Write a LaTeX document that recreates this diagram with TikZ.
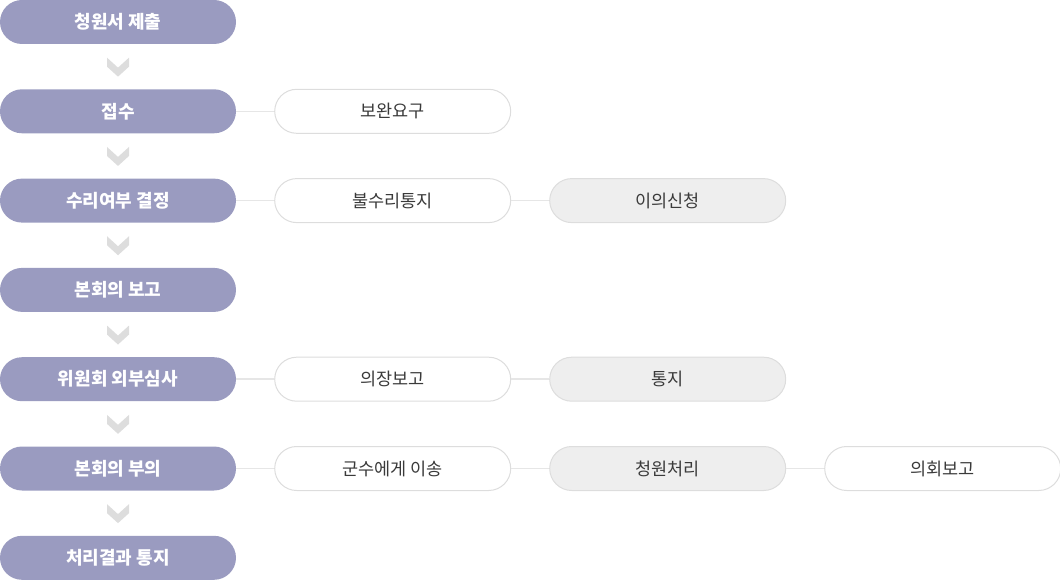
\documentclass[tikz,border=0pt]{standalone}
\usepackage{fontspec}
\newfontfamily\krfont{Noto Sans CJK KR}
\usetikzlibrary{positioning,calc}
\definecolor{stepfill}{HTML}{9A9BC0}
\definecolor{boxline}{HTML}{DDDDDD}
\definecolor{greyfill}{HTML}{EEEEEE}
\definecolor{linkcol}{HTML}{E6E6E6}
\definecolor{textcol}{HTML}{3A3A3A}
\tikzset{
	mainstep/.style={rectangle, rounded corners=22pt, fill=stepfill, text=white,
		minimum width=236pt, minimum height=44pt, inner sep=0pt,
		font=\krfont\bfseries\fontsize{18}{18}\selectfont},
	sidebox/.style={rectangle, rounded corners=22pt, draw=boxline, fill=white, text=textcol,
		minimum width=236pt, minimum height=44pt, inner sep=0pt, line width=1pt,
		font=\krfont\fontsize{17.5}{18}\selectfont},
	greybox/.style={sidebox, fill=greyfill},
	link/.style={draw=linkcol, line width=1.5pt},
	chevron/.style={fill=boxline, draw=none}
}
\begin{document}
\begin{tikzpicture}[x=1pt, y=-1pt]
	\useasboundingbox (0,0) rectangle (1060,580);
	% main column
	\node[mainstep] (s1) at (118,22) {청원서 제출};
	\node[mainstep] (s2) at (118,111.3) {접수};
	\node[mainstep] (s3) at (118,200.6) {수리여부 결정};
	\node[mainstep] (s4) at (118,289.9) {본회의 보고};
	\node[mainstep] (s5) at (118,379.2) {위원회 외부심사};
	\node[mainstep] (s6) at (118,468.5) {본회의 부의};
	\node[mainstep] (s7) at (118,557.8) {처리결과 통지};
	
	% chevrons between steps
	\foreach \a/\b in {s1/s2, s2/s3, s3/s4, s4/s5, s5/s6, s6/s7} {
		\path ($(\a.south)!0.5!(\b.north)$) coordinate (mid);
		\fill[chevron] (mid) ++(-11,-9) -- ++(11,10) -- ++(11,-10) -- ++(0,9) -- ++(-11,10) -- ++(-11,-10) -- cycle;
	}
	
	% side branches
	\node[sidebox, right=38pt of s2] (supp) {보완요구};
	\node[sidebox, right=38pt of s3] (reject) {불수리통지};
	\node[greybox, right=38pt of reject] (objection) {이의신청};
	\node[sidebox, right=38pt of s5] (chair) {의장보고};
	\node[greybox, right=38pt of chair] (notice) {통지};
	\node[sidebox, right=38pt of s6] (transfer) {군수에게 이송};
	\node[greybox, right=38pt of transfer] (handle) {청원처리};
	\node[sidebox, right=38pt of handle] (report) {의회보고};
	
	\draw[link] (s2) -- (supp);
	\draw[link] (s3) -- (reject);
	\draw[link] (reject) -- (objection);
	\draw[link] (s5) -- (chair);
	\draw[link] (chair) -- (notice);
	\draw[link] (s6) -- (transfer);
	\draw[link] (transfer) -- (handle);
	\draw[link] (handle) -- (report);
\end{tikzpicture}
\end{document}
